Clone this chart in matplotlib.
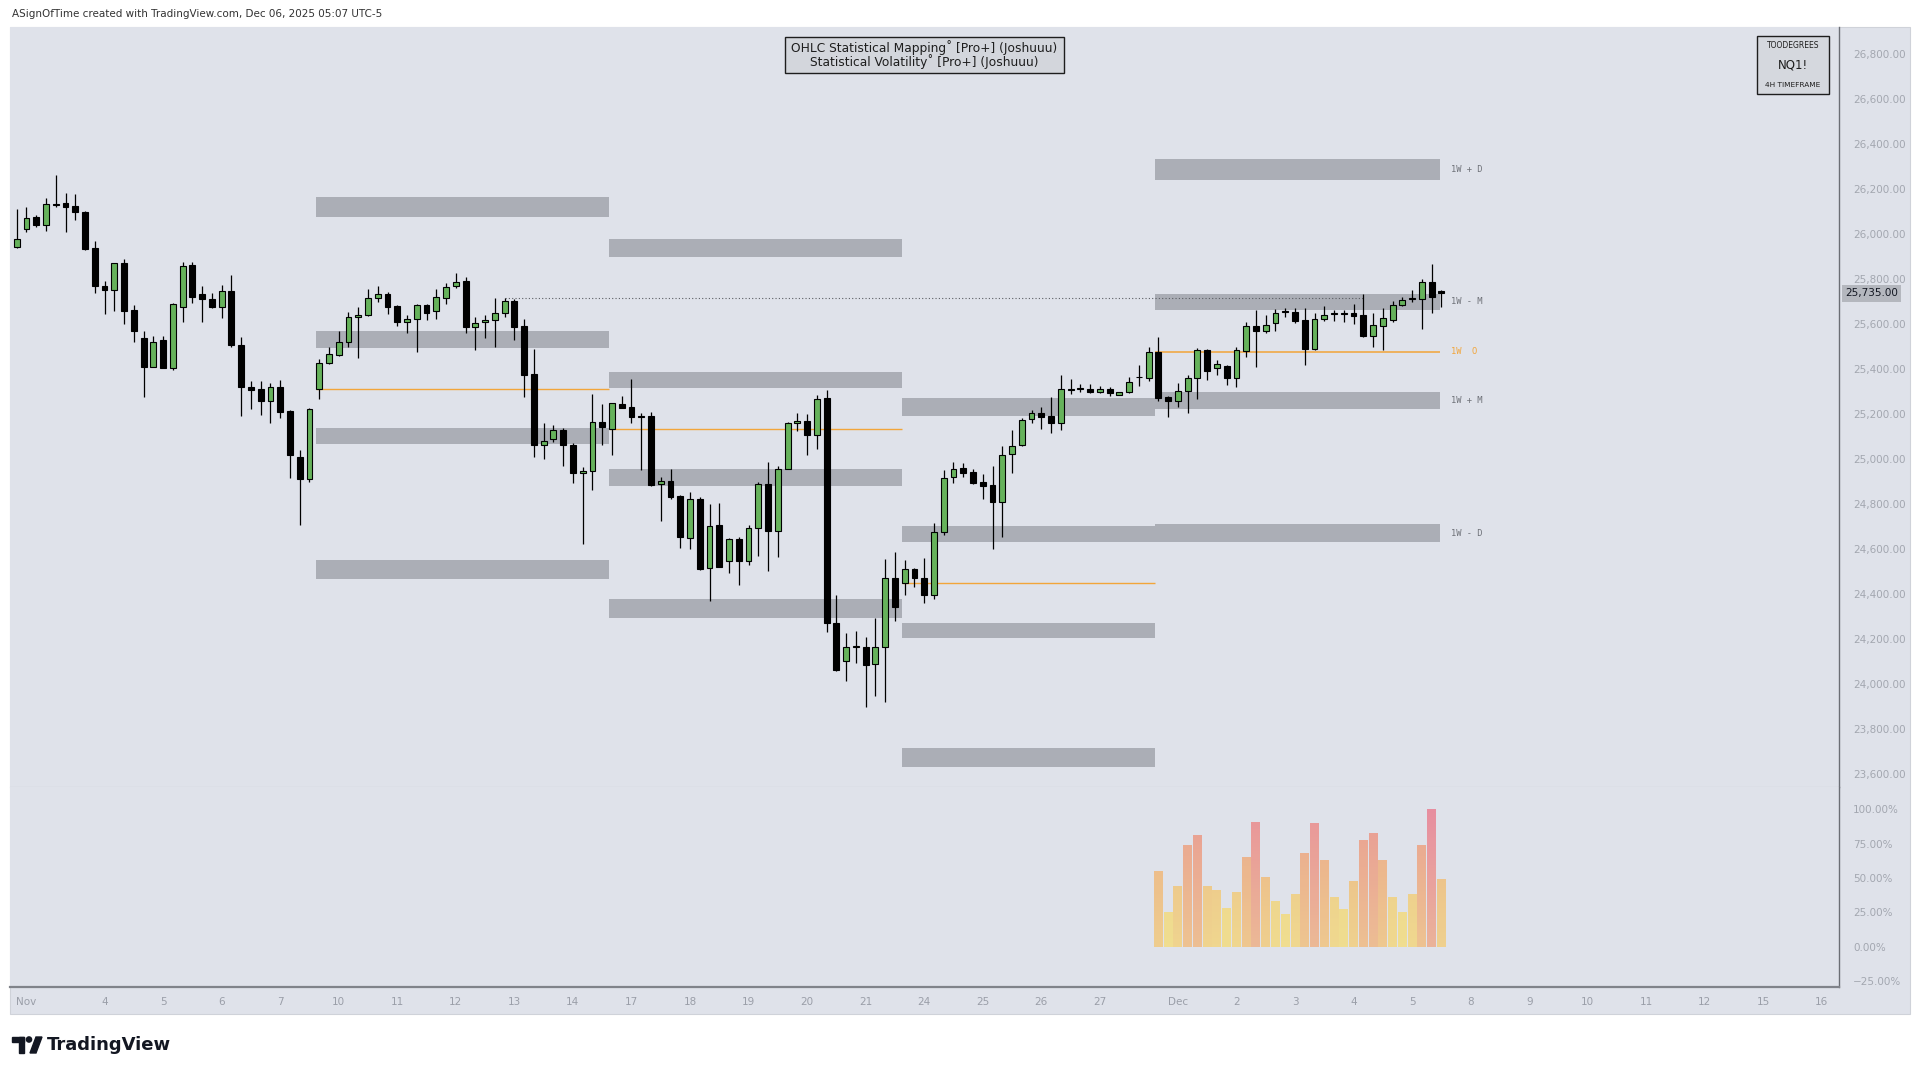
import matplotlib
matplotlib.use("Agg")
import numpy as np
import matplotlib.pyplot as plt
from matplotlib.patches import Rectangle, Circle, Polygon
from matplotlib.colors import LinearSegmentedColormap, to_rgb

# === Data (NQ1! 4H) ===
opens = [25943, 26020, 26075, 26037, 26133, 26137, 26124, 26099, 25935, 25769,
         25752, 25869, 25662, 25539, 25410, 25526, 25406, 25674, 25860, 25733,
         25711, 25674, 25745, 25506, 25321, 25309, 25259, 25318, 25213, 25010,
         24911, 25312, 25424, 25462, 25521, 25629, 25640, 25714, 25733, 25680,
         25610, 25620, 25684, 25659, 25717, 25766, 25792, 25585, 25607, 25618,
         25650, 25703, 25591, 25376, 25062, 25089, 25129, 25062, 24936, 24945,
         25166, 25132, 25244, 25232, 25192, 25192, 24887, 24902, 24835, 24650,
         24821, 24514, 24706, 24544, 24643, 24544, 24695, 24887, 24680, 24957,
         25158, 25169, 25106, 25269, 24272, 24104, 24166, 24166, 24087, 24166,
         24469, 24447, 24509, 24469, 24395, 24677, 24918, 24958, 24940, 24896,
         24884, 24810, 25020, 25062, 25177, 25203, 25192, 25158, 25309, 25309,
         25309, 25296, 25309, 25286, 25296, 25363, 25361, 25477, 25275, 25259,
         25303, 25358, 25484, 25406, 25414, 25361, 25481, 25591, 25569, 25603,
         25652, 25652, 25617, 25489, 25620, 25644, 25647, 25650, 25640, 25546,
         25592, 25617, 25684, 25711, 25711, 25785, 25745]
highs = [26109, 26118, 26083, 26158, 26262, 26180, 26177, 26102, 25970, 25792,
         25872, 25887, 25684, 25569, 25546, 25548, 25692, 25874, 25874, 25769,
         25736, 25772, 25816, 25543, 25346, 25346, 25336, 25351, 25218, 25040,
         25225, 25443, 25499, 25566, 25652, 25677, 25754, 25766, 25742, 25684,
         25640, 25689, 25689, 25754, 25780, 25825, 25807, 25632, 25640, 25714,
         25714, 25711, 25620, 25487, 25161, 25151, 25139, 25069, 24966, 25289,
         25244, 25250, 25280, 25357, 25203, 25207, 24918, 24954, 24838, 24852,
         24830, 24800, 24803, 24647, 24652, 24706, 24899, 24984, 24969, 25164,
         25203, 25200, 25284, 25306, 24395, 24228, 24233, 24210, 24292, 24554,
         24588, 24551, 24514, 24561, 24717, 24951, 24988, 24980, 24954, 24933,
         24970, 25058, 25129, 25180, 25215, 25232, 25274, 25373, 25354, 25333,
         25333, 25324, 25318, 25299, 25363, 25417, 25496, 25540, 25280, 25336,
         25373, 25492, 25489, 25440, 25417, 25496, 25610, 25662, 25640, 25665,
         25669, 25669, 25669, 25650, 25680, 25662, 25662, 25689, 25731, 25650,
         25669, 25703, 25721, 25751, 25798, 25865, 25752]
lows = [25939, 26006, 26029, 26014, 26118, 26010, 26062, 25929, 25739, 25643,
        25659, 25598, 25518, 25277, 25407, 25403, 25395, 25610, 25692, 25610,
        25669, 25625, 25499, 25192, 25222, 25195, 25158, 25181, 24914, 24704,
        24896, 25265, 25421, 25455, 25499, 25447, 25637, 25699, 25644, 25592,
        25558, 25474, 25615, 25622, 25689, 25761, 25558, 25484, 25539, 25496,
        25629, 25529, 25277, 25010, 24998, 25077, 24970, 24895, 24622, 24862,
        25062, 25018, 25225, 25161, 24951, 24881, 24726, 24822, 24603, 24600,
        24508, 24370, 24518, 24495, 24440, 24529, 24569, 24502, 24566, 24954,
        25126, 25018, 25043, 24232, 24059, 24015, 24092, 23899, 23948, 23921,
        24280, 24395, 24429, 24358, 24376, 24662, 24892, 24918, 24889, 24820,
        24598, 24652, 24936, 25055, 25158, 25132, 25114, 25129, 25289, 25297,
        25293, 25293, 25280, 25283, 25292, 25324, 25348, 25259, 25188, 25232,
        25206, 25265, 25351, 25373, 25329, 25321, 25451, 25410, 25558, 25570,
        25632, 25603, 25417, 25484, 25614, 25614, 25610, 25600, 25540, 25499,
        25484, 25610, 25681, 25699, 25576, 25647, 25674]
closes = [25977, 26072, 26037, 26132, 26127, 26121, 26099, 25932, 25770, 25751,
          25869, 25659, 25566, 25410, 25521, 25406, 25689, 25859, 25721, 25709,
          25674, 25745, 25506, 25321, 25304, 25259, 25318, 25210, 25018, 24911,
          25220, 25425, 25465, 25521, 25632, 25640, 25714, 25732, 25677, 25610,
          25620, 25684, 25650, 25718, 25763, 25788, 25585, 25603, 25618, 25650,
          25703, 25588, 25373, 25062, 25080, 25129, 25062, 24936, 24946, 25164,
          25140, 25247, 25228, 25188, 25188, 24884, 24901, 24830, 24655, 24822,
          24511, 24703, 24521, 24643, 24544, 24695, 24887, 24680, 24954, 25161,
          25169, 25106, 25265, 24270, 24062, 24166, 24168, 24084, 24166, 24469,
          24341, 24509, 24469, 24395, 24674, 24917, 24957, 24939, 24895, 24880,
          24807, 25018, 25059, 25173, 25203, 25188, 25161, 25309, 25306, 25309,
          25296, 25309, 25292, 25296, 25340, 25362, 25477, 25272, 25259, 25303,
          25358, 25484, 25392, 25420, 25361, 25484, 25591, 25569, 25595, 25650,
          25651, 25614, 25489, 25620, 25640, 25645, 25643, 25637, 25546, 25595,
          25628, 25684, 25706, 25709, 25785, 25718, 25735]
last_price = 25735

# weekly statistical levels: (start bar, end bar)
week_spans = [(30.7, 60.7), (60.7, 90.7), (90.7, 116.7), (116.7, 145.9)]
week_boxes = [
    [(26076, 26163), (25494, 25570), (25064, 25135), (24465, 24552)],
    [(25897, 25978), (25314, 25385), (24879, 24955), (24291, 24378)],
    [(25189, 25271), (24629, 24700), (24204, 24270), (23633, 23714)],
    [(26239, 26332), (25663, 25733), (25222, 25298), (24629, 24710)],
]
week_opens = [25309, 25134, 24449, 25477]
week5_labels = ["1W + D", "1W - M", "1W  O", "1W + M", "1W - D"]
week5_label_prices = [26286, 25698, 25477, 25260, 24670]
liquidity_line = (50, 138, 25716)

# statistical volatility (%) for the last week's bars
vol_start = 117
vol_pct = [55, 25, 44, 74, 81, 44, 41, 28, 40, 65,
           91, 51, 33, 24, 38, 68, 90, 63, 36, 27,
           48, 78, 83, 63, 36, 25, 38, 74, 100, 49]

# time axis labels (bar index -> text)
tick_bars = [1, 9, 15, 21, 27, 33, 39, 45, 51, 57, 63, 69, 75, 81, 87, 93, 99, 105,
             111, 119, 125, 131, 137, 143, 149, 155, 161, 167, 173, 179, 185]
tick_texts = ["Nov", "4", "5", "6", "7", "10", "11", "12", "13", "14", "17", "18",
              "19", "20", "21", "24", "25", "26", "27", "Dec", "2", "3", "4", "5",
              "8", "9", "10", "11", "12", "15", "16"]

# === Styling ===
W, H = 1920, 1075
BG = "#dfe2ea"
GREEN = "#66b25b"
BOX = "#abaeb6"
ORANGE = "#f2a53a"
AXIS_TXT = "#a3a7b0"


def frac(x0, y0, x1, y1):
    """pixel box -> figure fraction [left, bottom, width, height]"""
    return [x0 / W, 1 - y1 / H, (x1 - x0) / W, (y1 - y0) / H]


fig = plt.figure(figsize=(W / 100, H / 100), dpi=100, facecolor="white")

bg = fig.add_axes([0, 0, 1, 1], zorder=0)
bg.set_xlim(0, W)
bg.set_ylim(H, 0)
bg.axis("off")
bg.add_patch(Rectangle((10, 27), 1900, 987, facecolor=BG, edgecolor="#cfd2d9", lw=0.8))
bg.text(12, 14, "ASignOfTime created with TradingView.com, Dec 06, 2025 05:07 UTC-5",
        fontsize=7.5, color="#333333", va="center", ha="left")

# TradingView logo
bg.add_patch(Rectangle((12, 1037), 12, 5, color="#131722"))
bg.add_patch(Rectangle((19, 1037), 5, 16, color="#131722"))
bg.add_patch(Circle((29, 1039.5), 2.6, color="#131722"))
bg.add_patch(Polygon([(30, 1053), (36, 1037), (42, 1037), (36, 1053)], color="#131722"))
bg.text(47, 1045, "TradingView", fontsize=13, fontweight="bold", color="#131722",
        va="center", ha="left")

ax = fig.add_axes(frac(10, 27, 1839, 787), zorder=1)
axv = fig.add_axes(frac(10, 787, 1839, 987), zorder=1, sharex=ax)
for a in (ax, axv):
    a.set_facecolor(BG)
    for s in ("top", "left"):
        a.spines[s].set_visible(False)
    a.spines["right"].set_color("#6b6e75")
    a.spines["right"].set_linewidth(1.0)
ax.spines["bottom"].set_color("#b9bcc3")
axv.spines["bottom"].set_color("#80838a")
axv.spines["bottom"].set_linewidth(1.6)

# --- weekly boxes and open lines ---
for (x0, x1), boxes, wopen in zip(week_spans, week_boxes, week_opens):
    for lo, hi in boxes:
        ax.add_patch(Rectangle((x0, lo), x1 - x0, hi - lo, facecolor=BOX,
                               edgecolor="none", zorder=1))
    lw = 1.0 if wopen != week_opens[-1] else 1.4
    al = 1.0 if wopen != week_opens[-1] else 0.8
    ax.hlines(wopen, x0, x1, color=ORANGE, lw=lw, alpha=al, zorder=2)

ax.hlines(liquidity_line[2], liquidity_line[0], liquidity_line[1], color="#5a5d63",
          lw=0.8, linestyles=(0, (1, 2)), zorder=2)

for txt, p in zip(week5_labels, week5_label_prices):
    col = ORANGE if "O" in txt else "#6e7178"
    ax.text(147, p, txt, fontsize=6.3, family="DejaVu Sans Mono", color=col,
            va="center", ha="left", zorder=3)

# --- candles ---
idx = list(range(len(opens)))
up = [c >= o for o, c in zip(opens, closes)]
ax.vlines(idx, lows, highs, color="black", lw=0.9, zorder=3)
bottoms = [min(o, c) for o, c in zip(opens, closes)]
heights = [max(abs(c - o), 4) for o, c in zip(opens, closes)]
ax.bar(idx, heights, bottom=bottoms, width=0.6,
       color=[GREEN if u else "black" for u in up], edgecolor="black", lw=0.8, zorder=4)

ax.set_xlim(-0.69, 186.75)
ax.set_ylim(23542, 26919)
price_ticks = list(range(23600, 26801, 200))
ax.set_yticks(price_ticks)
ax.set_yticklabels([f"{v:,.2f}" for v in price_ticks])
ax.yaxis.tick_right()
ax.tick_params(axis="y", length=0, pad=10, labelsize=7.5, labelcolor=AXIS_TXT)
ax.tick_params(axis="x", length=0, labelbottom=False)
ax.annotate(f"{last_price:,.2f}", xy=(1, last_price), xycoords=("axes fraction", "data"),
            xytext=(6, 0), textcoords="offset pixels", va="center", ha="left",
            fontsize=7.5, color="#131722",
            bbox=dict(boxstyle="square,pad=0.3", fc="#b4b7be", ec="none"),
            annotation_clip=False)

# --- volatility pane: bars with a yellow-to-value vertical gradient ---
vol_cmap = LinearSegmentedColormap.from_list(
    "vol", [(0.0, "#f3e38a"), (0.3, "#f1da86"), (0.55, "#efbb83"),
            (0.8, "#eca08b"), (1.0, "#e8879a")])
vol_x = [vol_start + i for i in range(len(vol_pct))]
bars = axv.bar(vol_x, vol_pct, width=0.92, color="none", edgecolor="none")
grad = np.linspace(0, 1, 64).reshape(-1, 1)
for rect, v in zip(bars, vol_pct):
    top_c = np.array(to_rgb(vol_cmap(v / 100)))
    bot_c = 0.55 * top_c + 0.45 * np.array(to_rgb("#f3e08a"))
    cm = LinearSegmentedColormap.from_list("b", [bot_c, top_c])
    im = axv.imshow(grad, cmap=cm, origin="lower", aspect="auto", alpha=0.92,
                    extent=(rect.get_x(), rect.get_x() + rect.get_width(), 0, v))
    im.set_clip_path(rect)
axv.set_xlim(-0.69, 186.75)
axv.set_ylim(-29.5, 116.3)
pct_ticks = [-25, 0, 25, 50, 75, 100]
axv.set_yticks(pct_ticks)
axv.set_yticklabels([f"{v:.2f}%".replace("-", "\u2212") for v in pct_ticks])
axv.yaxis.tick_right()
axv.tick_params(axis="y", length=0, pad=10, labelsize=7.5, labelcolor=AXIS_TXT)
axv.set_xticks(tick_bars)
axv.set_xticklabels(tick_texts)
axv.tick_params(axis="x", length=0, pad=7, labelsize=7.5, labelcolor="#9a9ea8")

# --- legend boxes ---
top = fig.add_axes([0, 0, 1, 1], zorder=5)
top.set_xlim(0, W)
top.set_ylim(H, 0)
top.axis("off")
top.patch.set_alpha(0)
top.add_patch(Rectangle((785, 37), 279, 36, facecolor="#d3d6dc", edgecolor="#1e1e1e", lw=1))
top.text(924.5, 47.5, "OHLC Statistical Mapping\u02da [Pro+] (Joshuuu)", fontsize=8.8,
         color="#1e1e1e", ha="center", va="center")
top.text(924.5, 62, "Statistical Volatility\u02da [Pro+] (Joshuuu)", fontsize=8.8,
         color="#1e1e1e", ha="center", va="center")
top.add_patch(Rectangle((1757, 36), 72, 58, facecolor="#d5d8de", edgecolor="#1e1e1e", lw=1))
top.text(1793, 45, "TOODEGREES", fontsize=5.5, color="#1e1e1e", ha="center", va="center")
top.text(1793, 65, "NQ1!", fontsize=8.5, color="#1e1e1e", ha="center", va="center")
top.text(1793, 85, "4H TIMEFRAME", fontsize=5.3, color="#1e1e1e", ha="center", va="center")

fig.savefig("out.png", dpi=100, facecolor="white")
